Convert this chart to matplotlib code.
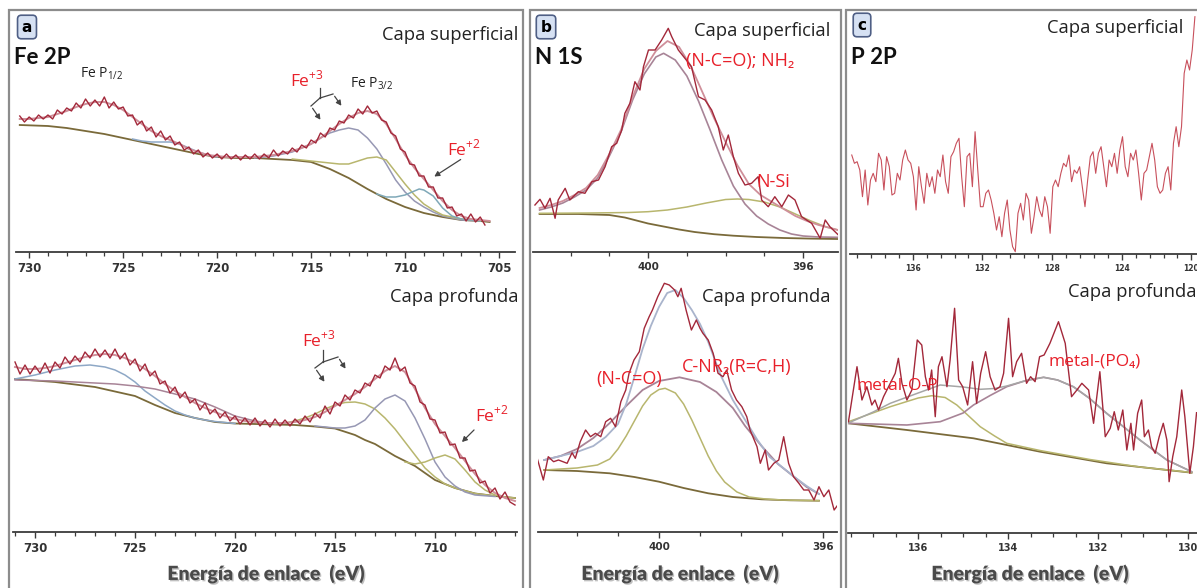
import numpy as np
import matplotlib
matplotlib.use('Agg')
import matplotlib.pyplot as plt
from matplotlib.ticker import MultipleLocator
from matplotlib.patches import Rectangle
import matplotlib.patheffects as pe

# ---------------- DATA ----------------
# Panel a (Fe 2P) - surface layer
a_up_raw_E = np.linspace(730.5, 705.75, 100)
a_up_raw = [136,130,135,131,137,133,137,133,142,138,
            144,141,149,144,153,146,152,146,155,144,
            150,143,145,136,137,127,131,121,125,115,
            121,112,116,107,110,102,105,98,102,95,
            99,94,98,93,98,93,97,92,97,93,
            98,93,98,94,102,96,101,98,104,100,
            107,104,112,109,119,115,124,122,131,129,
            137,134,143,138,146,139,141,132,130,119,
            116,103,100,88,87,76,76,65,65,54,
            54,44,45,36,38,31,38,30,35,27]
a_up_env_E = np.linspace(730.5, 705.5, 51)
a_up_env = [133,133,134,135,138,141,145,148,150,150,
            147,142,135,128,121,116,112,108,103,100,
            97,96,95,95,95,95,96,97,99,101,
            104,108,114,121,128,134,139,141,138,128,
            113,97,84,73,62,51,42,36,33,32,31]
a_up_bg_E = [730.5,729,728,727,726,725,724,723,722,721,720,719,718,717,716,715,714,713,712,711,710,709,708,707,706,705.5]
a_up_bg = [127,126,124,121,118,114,110,106,102,98,95,94,94,93,92,90,83,74,63,53,45,39,35,32,31,30]
a_up_c1_E = [724.5,724,723.5,723,722.5,722,721.5,721,720.5,720]
a_up_c1 = [113,111,110,110,110,108,104,100,97,95]
a_up_main_E = [718,717,716,715,714.5,714,713.5,713,712.5,712,711.5,711,710.5,710,709.5,709,708.5,708,707,706]
a_up_main = [94,96,100,108,114,119,122,124,122,114,103,88,72,60,51,45,40,36,32,31]
a_up_ol_E = [716,715,714,713.5,713,712.5,712,711.5,711,710.5,710,709.5,709,708.5,708,707,706]
a_up_ol = [93,91,89,88,88,91,94,95,92,80,68,57,48,42,37,33,31]
a_up_fe2_E = [711.5,711,710.5,710,709.5,709.25,709,708.5,708,707.5,707,706]
a_up_fe2 = [58,55,55,57,61,63,62,56,44,36,33,31]

# Panel a (Fe 2P) - deep layer
a_lo_raw_E = np.linspace(731, 706, 101)
a_lo_raw = [170,158,167,158,166,159,169,159,170,164,
            175,168,176,170,180,174,183,175,182,174,
            183,173,179,167,173,161,168,156,161,148,
            151,139,145,134,140,129,133,122,129,118,
            123,114,120,111,116,108,114,107,114,106,
            112,105,113,106,112,106,113,108,116,110,
            119,114,126,118,130,126,137,132,142,139,
            149,146,157,154,166,162,174,161,165,149,
            146,130,127,113,112,99,100,87,88,74,
            74,61,62,49,51,39,44,33,40,30,27]
a_lo_env_E = np.linspace(731, 706, 51)
a_lo_env = [165,163,163,164,166,169,172,175,177,178,
            177,174,169,163,156,148,141,135,129,124,
            120,116,113,111,110,109,109,109,110,112,
            115,120,126,132,138,145,153,161,166,160,
            143,124,108,96,84,71,58,47,39,34,31]
a_lo_bg_E = [731,729,727,725,724,723,722,721,720,719,718,717,716,715,714,713.5,713,712,711,710,709,708,707,706]
a_lo_bg = [153,150,145,136,127,119,114,110,108.5,108,107.5,107,105.5,103.5,97,92,88,76,66,52,44,38.5,36,34]
a_lo_blue_E = [731,730,729,728,727.25,726.5,726,725.5,725,724.5,724,723.5,723,722.5,722,721.5,721,720]
a_lo_blue = [153,157,162,166,167,165,162,157,150,141,134,127,121,117,114,112,110.5,108.5]
a_lo_purp_E = [731,729,727,726,725,724,723,722,721,720,719,718]
a_lo_purp = [152,151,149,148,146,143,138,133,125,116,111,108]
a_lo_ol_E = [718,717.5,717,716.5,716,715.5,715,714.5,714,713.5,713,712.5,712,711.5,711,710.5,710,709.5,709,708,707]
a_lo_ol = [108,109,111,114,118,123,127,129.5,130,128,123,114,103,90,77,64,55,48,44,38.5,36]
a_lo_gray_E = [716,715,714.5,714,713.5,713,712.5,712,711.5,711,710.5,710,709.5,709,708.5,708,707]
a_lo_gray = [106,104,104,106,112,124,133,137,131,114,93,70,55,46,40,37,35.5]
a_lo_fe2_E = [711.5,711,710.5,710,709.5,709,708.5,708,707.5,707,706.5,706]
a_lo_fe2 = [70,68,70,74,77,73,62,50,42,37,35,34]

# Panel b (N 1S) - surface layer
b_up_raw_E = [402.92,402.79,402.66,402.53,402.40,402.32,402.14,402.02,401.80,401.63,401.45,401.28,401.11,
              400.94,400.81,400.68,400.60,400.47,400.34,400.21,400.12,399.99,399.82,399.65,399.48,399.39,
              399.22,399.05,398.88,398.70,398.53,398.36,398.19,398.06,397.93,397.80,397.67,397.50,397.33,
              397.16,397.07,396.90,396.73,396.55,396.38,396.21,396.04,395.78,395.56,395.43,395.31,395.09]
b_up_raw = [47,52.7,43.7,53.7,33.7,52,63.7,52,60.3,58.7,70.3,72,85.3,
            105.3,108.7,122,138.7,148.7,170.3,162,185.3,202,202,212,223.7,215.3,
            202,193.7,185.3,155.3,152,142,125.3,102,117,95.3,78.7,67,68.7,
            75.3,52,45.3,55.3,45.3,57,52,35.3,28.7,13.7,32,25.3,17]
b_up_env_E = [402.8,402.5,402.2,401.9,401.6,401.3,401.0,400.7,400.4,400.1,399.8,399.5,399.2,398.9,
              398.6,398.3,398.0,397.7,397.4,397.1,396.8,396.5,396.2,395.9,395.6,395.3,395.1]
b_up_env = [44,47,51,57,64,77,98,122,155,183,201,211,205,186,160,134,110,87,68,57,50,43,36,31,27,24,22]
b_up_main_E = [402.8,402.5,402.2,401.9,401.6,401.3,401.0,400.7,400.4,400.1,399.8,399.6,399.3,399.0,
               398.7,398.4,398.1,397.8,397.5,397.2,396.9,396.6,396.3,396.0,395.6,395.1]
b_up_main = [42,45,49,55,62,74,96,120,152,178,195,198.7,192,176,151,122,92,66,48,36,28,22,18,16,15,14.7]
b_up_nsi_E = [402.8,401.5,400.5,400.0,399.5,399.0,398.5,398.0,397.7,397.4,397.0,396.6,396.2,395.8,395.4,395.1]
b_up_nsi = [38.7,39,39.5,40.3,42,45,49,52.5,53,52.5,50,45,38,31,25,22]
b_up_bg_E = [402.8,401.8,401.0,400.6,400.3,400.0,399.6,399.2,398.8,398.3,397.8,397.2,396.5,395.8,395.1]
b_up_bg = [38,38,37,34.5,31.5,28.5,25.5,22.5,20,17.8,16.3,15,14,13.4,13]

# Panel b (N 1S) - deep layer
b_lo_raw_E = [402.98,402.82,402.70,402.57,402.45,402.24,402.12,402.04,401.92,401.79,401.67,401.55,401.42,
              401.30,401.18,401.06,400.93,400.81,400.73,400.61,400.48,400.36,400.24,400.16,400.03,399.87,
              399.75,399.62,399.54,399.46,399.34,399.21,399.09,399.00,398.93,398.80,398.68,398.56,398.44,
              398.35,398.23,398.11,397.98,397.86,397.78,397.61,397.53,397.41,397.33,397.20,397.08,396.96,
              396.84,396.72,396.59,396.47,396.35,396.22,396.10,395.98,395.86,395.73,395.61]
b_lo_raw = [75.3,52,75.3,70.3,72,68.7,79.3,73.7,90.3,102,95.3,98.7,95.3,
            110.3,113.7,105.3,130.3,142,158.7,172,180.3,203.7,215.3,222,235.3,248.7,
            247,242,235.3,243.7,222,202,212,203.7,198.7,192,178.7,158.7,155.3,
            162,142,132,125.3,115.3,102,85.3,68.7,82,62,68.7,72,95.3,
            68.7,55.3,48.7,42,42,32,45.3,35.3,42,22,28.7]
b_lo_env_E = [402.8,402.4,402.0,401.6,401.3,401.0,400.8,400.6,400.4,400.2,400.0,399.8,399.6,399.4,
              399.2,399.0,398.8,398.5,398.2,397.9,397.6,397.3,397.0,396.7,396.4,396.1]
b_lo_env = [72,76,80,86,95,108,128,155,183,206,225,239,242,234,222,208,190,157,132,112,92,75,65,55,46,38]
b_lo_cnr_E = [402.8,402.4,402.0,401.6,401.2,400.8,400.4,400.0,399.5,399.0,398.6,398.2,397.9,397.5,397.1,396.7,396.4,396.1]
b_lo_cnr = [72,76,83,94,109,126,142,151,154.7,150,140,124,106,86,68,55,45,38]
b_lo_nco_E = [402.8,402.0,401.5,401.2,401.0,400.8,400.6,400.4,400.2,400.0,399.85,399.6,399.4,399.2,
              399.0,398.8,398.6,398.4,398.1,397.8,397.4,397.0,396.1]
b_lo_nco = [62,64,67,73,83,96,111,126,137,142.5,143.7,139,128,112,94,76,61,50,40,35,33,32,31.3]
b_lo_bg_E = [402.8,402.0,401.2,400.6,400.0,399.4,398.8,398.2,397.5,396.8,396.1]
b_lo_bg = [62,61,58.7,55,50.3,44,38.7,35,32.7,31.7,31.3]

# Panel c (P 2P) - surface layer
c_up_raw = [99,90.7,92.3,84,57.3,84,49,74,80.7,72.3,100.7,94,64,97.3,87.3,59,60.7,80.7,74,94,
            104,94,90.7,77.3,44,87.3,67.3,50.7,80.7,67.3,77.3,60.7,84,77.3,99,72.3,60.7,97.3,102.3,110.7,
            115.7,77.3,47.3,97.3,100.7,67.3,122.3,84,47.3,47.3,60.7,64,54,40.7,24,37.3,17.3,40.7,54,24,
            7.3,2.3,40.7,50.7,34,60.7,54,20.7,37.3,57.3,44,37.3,57.3,47.3,20.7,67.3,74,67.3,80.7,90.7,
            87.3,99,72.3,84,80.7,87.3,67.3,47.3,74,97.3,102.3,80.7,100.7,107.3,87.3,67.3,94,87.3,100.7,80.7,
            104,117.3,87.3,77.3,100.7,94,104,80.7,54,80.7,84,97.3,110.7,94,67.3,60.7,64,80.7,87.3,64,
            110.7,127.3,107.3,127.3,180.7,194,184,204,237.3]
c_up_raw_E = np.linspace(139.5, 119.8, len(c_up_raw))

# Panel c (P 2P) - deep layer
c_lo_raw_E = [137.55,137.36,137.25,137.14,137.03,136.96,136.88,136.77,136.62,136.51,136.44,136.36,136.25,
              136.14,136.02,135.92,135.84,135.77,135.70,135.62,135.55,135.47,135.36,135.29,135.19,135.10,
              135.01,134.90,134.79,134.70,134.61,134.50,134.40,134.29,134.18,134.10,133.99,133.90,133.81,
              133.70,133.59,133.50,133.40,133.30,133.20,133.07,132.88,132.73,132.59,132.47,132.36,132.21,
              132.10,131.96,131.84,131.73,131.64,131.55,131.45,131.36,131.27,131.21,131.12,131.03,130.97,
              130.88,130.81,130.73,130.64,130.55,130.47,130.42,130.34,130.25,130.14,130.07,129.96,129.88,129.81]
c_lo_raw = [111.3,166.3,133,146.3,128,133,123,136.3,149.7,159.7,174.7,149.7,133,
            143,193,188,156.3,143,163,116.3,166.3,176.3,146.3,173,224.7,153,
            146.3,128,171.3,129.7,159.7,181.3,156.3,143,146.3,159.7,214.7,156.3,171.3,
            179.7,149.7,156.3,151.3,176.3,178,189.7,211.3,189.7,136.3,143,149.7,143,
            109.7,161.3,96.3,104.7,121.3,103,123,83,109.7,83,119.7,133,96.3,
            103,86.3,79.7,96.3,109.7,93,51.3,76.3,96.3,143,116.3,59.7,86.3,120.3]
c_lo_env_E = [137.55,137.0,136.62,136.0,135.51,135.0,134.62,134.3,134.03,133.6,133.21,132.9,132.55,132.2,131.81,131.4,131.07,130.47,129.92]
c_lo_env = [110,121,129.7,140,148,146,143.7,144.5,147,152.5,155.7,153,146.3,135,119.7,105,93,73,61.3]
c_lo_po4_E = [137.55,136.25,135.51,135.0,134.77,134.4,134.03,133.6,133.21,132.9,132.55,132.2,131.81,131.4,131.07,130.47,129.92]
c_lo_po4 = [109.7,108,111.3,120,128,137.5,146.3,152.5,155.7,153,146.3,135,119.7,105,93,73,61.3]
c_lo_op_E = [137.55,136.62,136.0,135.7,135.4,135.14,134.9,134.62,134.3,134.03,133.29,132.18,131.07,129.92]
c_lo_op = [111.3,126.3,135,137.3,135.5,128,118,106.3,97,89.7,82.5,73.5,66,60.5]
c_lo_bg_E = [137.55,136.25,134.77,133.29,131.81,129.92]
c_lo_bg = [109.7,103,94.7,81.3,69.7,60.3]

# ---------------- STYLE ----------------
RAW = '#a3283a'
ENV = '#cf8f9a'
BG = '#7a6a3a'
BLUE = '#8ea8c6'
OLIVE = '#b8b66e'
MAUVE = '#a88497'
GRAY = '#9798b4'
RED = '#e8202a'
TXT = ['Open Sans', 'DejaVu Sans']
BOLDF = ['Lato', 'DejaVu Sans']

W, H = 1197, 588
fig = plt.figure(figsize=(W / 100, H / 100), dpi=100)
fig.patch.set_facecolor('white')


def fx(x):
    return x / W


def fy(y):
    return 1 - y / H


def make_ax(l, r, t, b, xlim, major, minor, lsize):
    ax = fig.add_axes([fx(l), fy(b), (r - l) / W, (b - t) / H])
    ax.set_xlim(*xlim)
    ax.set_ylim(0, b - t)
    for s in ('left', 'right', 'top'):
        ax.spines[s].set_visible(False)
    ax.spines['bottom'].set_color('#3a3a3a')
    ax.spines['bottom'].set_linewidth(1.3)
    ax.set_yticks([])
    ax.patch.set_alpha(0)
    ax.set_xticks(major, labels=[str(m) for m in major], fontweight='bold',
                  fontsize=lsize, color='#333333', family='DejaVu Sans')
    ax.xaxis.set_minor_locator(MultipleLocator(minor))
    ax.tick_params(axis='x', which='major', direction='out', length=4, width=1.0,
                   color='#3a3a3a', pad=3)
    ax.tick_params(axis='x', which='minor', direction='out', length=3, width=0.9,
                   color='#3a3a3a')
    return ax


def line(ax, x, y, c, lw=1.1, z=2):
    ax.plot(x, y, color=c, lw=lw, zorder=z, solid_joinstyle='round')


# Panel a
ax1 = make_ax(16, 515, 20, 252, (730.7, 704.15), [730, 725, 720, 715, 710, 705], 1, 8.5)
line(ax1, a_up_bg_E, a_up_bg, BG, 1.3)
line(ax1, a_up_c1_E, a_up_c1, BLUE)
line(ax1, a_up_main_E, a_up_main, GRAY)
line(ax1, a_up_ol_E, a_up_ol, OLIVE)
line(ax1, a_up_fe2_E, a_up_fe2, '#7fa8b8')
line(ax1, a_up_env_E, a_up_env, ENV, 1.4, 3)
line(ax1, a_up_raw_E, a_up_raw, RAW, 1.0, 4)

ax2 = make_ax(13, 517, 295, 532, (731.1, 705.9), [730, 725, 720, 715, 710], 1, 8.5)
line(ax2, a_lo_bg_E, a_lo_bg, BG, 1.3)
line(ax2, a_lo_blue_E, a_lo_blue, BLUE)
line(ax2, a_lo_purp_E, a_lo_purp, MAUVE)
line(ax2, a_lo_ol_E, a_lo_ol, OLIVE)
line(ax2, a_lo_gray_E, a_lo_gray, GRAY)
line(ax2, a_lo_fe2_E, a_lo_fe2, OLIVE)
line(ax2, a_lo_env_E, a_lo_env, ENV, 1.4, 3)
line(ax2, a_lo_raw_E, a_lo_raw, RAW, 1.0, 4)

# Panel b
ax3 = make_ax(533, 838, 20, 252, (402.97, 395.1), [400, 396], 1, 7.5)
line(ax3, b_up_bg_E, b_up_bg, BG, 1.3)
line(ax3, b_up_nsi_E, b_up_nsi, OLIVE)
line(ax3, b_up_main_E, b_up_main, MAUVE, 1.2)
line(ax3, b_up_env_E, b_up_env, ENV, 1.3, 3)
line(ax3, b_up_raw_E, b_up_raw, RAW, 1.0, 4)

ax4 = make_ax(538, 837, 280, 532, (402.95, 395.66), [400, 396], 1, 7.5)
line(ax4, b_lo_bg_E, b_lo_bg, BG, 1.3)
line(ax4, b_lo_nco_E, b_lo_nco, OLIVE)
line(ax4, b_lo_cnr_E, b_lo_cnr, MAUVE, 1.3)
line(ax4, b_lo_env_E, b_lo_env, '#a9b4cc', 1.3, 3)
line(ax4, b_lo_raw_E, b_lo_raw, RAW, 1.0, 4)

# Panel c
ax5 = make_ax(850, 1197, 15, 254, (139.6, 119.68), [136, 132, 128, 124, 120], 0.8, 5.5)
line(ax5, c_up_raw_E, c_up_raw, '#c8505c', 0.8, 4)

ax6 = make_ax(848, 1197, 295, 533, (137.56, 129.8), [136, 134, 132, 130], 0.5, 7)
line(ax6, c_lo_bg_E, c_lo_bg, BG, 1.3)
line(ax6, c_lo_op_E, c_lo_op, OLIVE)
line(ax6, c_lo_po4_E, c_lo_po4, MAUVE, 1.2)
line(ax6, c_lo_env_E, c_lo_env, '#a6a6a6', 1.1, 3)
line(ax6, c_lo_raw_E, c_lo_raw, RAW, 1.0, 4)

# ---------------- FRAMES & TEXT ----------------
for (l, r) in [(9, 523), (530, 841), (846, 1200)]:
    fig.patches.append(Rectangle((fx(l), fy(592)), (r - l) / W, (592 - 10) / H,
                                 transform=fig.transFigure, fill=False,
                                 ec='#8c8c8c', lw=1.6, zorder=0))


def ftext(x, y, s, **kw):
    kw.setdefault('family', TXT)
    return fig.text(fx(x), fy(y), s, **kw)


for x, y, s in [(27, 27, 'a'), (546, 27, 'b'), (862, 25, 'c')]:
    ftext(x, y, s, ha='center', va='center', fontsize=11, fontweight='bold',
          family=['DejaVu Sans'],
          bbox=dict(boxstyle='round,pad=0.28,rounding_size=0.25', fc='#d6e1f3',
                    ec='#4f5f85', lw=1.2))

for x, y, s in [(14, 58, 'Fe 2P'), (535, 57, 'N 1S'), (851, 57, 'P 2P')]:
    ftext(x, y, s, ha='left', va='center', fontsize=16, fontweight='bold',
          family=BOLDF, color='#111111')

for x, y, s in [(518, 35, 'Capa superficial'), (518, 297, 'Capa profunda'),
                (830, 31, 'Capa superficial'), (830, 297, 'Capa profunda'),
                (1183, 28, 'Capa superficial'), (1197, 292, 'Capa profunda')]:
    ftext(x, y, s, ha='right', va='center', fontsize=13.2, color='#222222')

ftext(80, 74, r'Fe P$_{\mathregular{1/2}}$', ha='left', va='center', fontsize=10, color='#222222')
ftext(350, 84, r'Fe P$_{\mathregular{3/2}}$', ha='left', va='center', fontsize=10, color='#222222')
ftext(290, 80, r'Fe$^{\mathregular{+3}}$', ha='left', va='center', fontsize=12.5, color=RED)
ftext(447, 149, r'Fe$^{\mathregular{+2}}$', ha='left', va='center', fontsize=12.5, color=RED)
ftext(302, 340, r'Fe$^{\mathregular{+3}}$', ha='left', va='center', fontsize=12.5, color=RED)
ftext(475, 415, r'Fe$^{\mathregular{+2}}$', ha='left', va='center', fontsize=12.5, color=RED)
ftext(686, 61, '(N-C=O); NH₂', ha='left', va='center', fontsize=13, color=RED)
ftext(756, 182, 'N-Si', ha='left', va='center', fontsize=13, color=RED)
ftext(596, 379, '(N-C=O)', ha='left', va='center', fontsize=13, color=RED)
ftext(682, 367, 'C-NR₂(R=C,H)', ha='left', va='center', fontsize=13, color=RED)
ftext(857, 386, 'metal-O-P', ha='left', va='center', fontsize=12.5, color=RED)
ftext(1049, 362, 'metal-(PO₄)', ha='left', va='center', fontsize=12.5, color=RED)


def seg(p, q):
    fig.add_artist(plt.Line2D([fx(p[0]), fx(q[0])], [fy(p[1]), fy(q[1])],
                              transform=fig.transFigure, color='#444444', lw=0.9))


def arrow(p, q):
    fig.add_artist(matplotlib.patches.FancyArrowPatch(
        (fx(p[0]), fy(p[1])), (fx(q[0]), fy(q[1])), transform=fig.transFigure,
        arrowstyle='-|>,head_length=3,head_width=1.6', color='#444444', lw=0.9))


# bracket arrows panel a (upper)
seg((320, 88), (320, 98))
seg((320, 98), (311, 106))
seg((320, 98), (333, 94))
arrow((311, 106), (322, 122))
arrow((333, 94), (343, 108))
arrow((463, 158), (432, 178))
# bracket arrows panel a (lower)
seg((323, 350), (323, 362))
seg((323, 362), (315, 368))
seg((323, 362), (338, 357))
arrow((315, 368), (326, 384))
arrow((338, 357), (347, 371))
arrow((476, 428), (460, 444))

for x in (266, 680, 1030):
    ftext(x, 574, 'Energía de enlace  (eV)', ha='center', va='center', fontsize=14,
          fontweight='heavy', family=['Lato', 'DejaVu Sans'],
          color='#4a4a4a',
          path_effects=[pe.withSimplePatchShadow(offset=(1, -1), shadow_rgbFace='#b0b0b0', alpha=0.8)])

fig.savefig('out.png', dpi=100)
